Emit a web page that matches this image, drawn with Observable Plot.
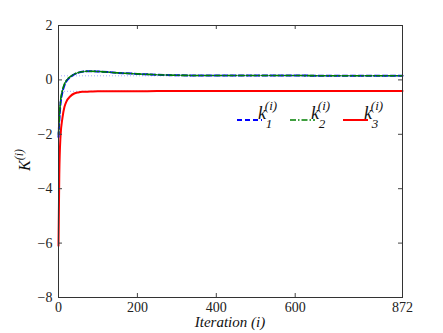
<!DOCTYPE html>
<html><head><meta charset="utf-8">
<script src="https://cdn.jsdelivr.net/npm/d3@7"></script>
<script src="https://cdn.jsdelivr.net/npm/@observablehq/plot@0.6"></script>
<style>body{margin:0;background:#fff}#chart{position:relative;width:443px;height:333px}
svg, svg text{font-family:'Liberation Serif','Times New Roman','DejaVu Serif',serif !important}</style>
</head><body><div id="chart"></div>
<script>
const iterations = [0, 2, 5, 10, 15, 20, 30, 40, 50, 60, 80, 100, 150, 200, 250, 300, 400, 500, 600, 700, 800, 872];
const k1 = [-2.1, -1.5, -0.9, -0.45, -0.2, -0.05, 0.1, 0.2, 0.26, 0.3, 0.32, 0.31, 0.26, 0.22, 0.19, 0.17, 0.16, 0.16, 0.16, 0.15, 0.15, 0.15];
const k2 = [-2.0, -1.4, -0.8, -0.38, -0.15, -0.02, 0.12, 0.21, 0.27, 0.3, 0.32, 0.31, 0.26, 0.22, 0.19, 0.17, 0.16, 0.16, 0.16, 0.15, 0.15, 0.15];
const k3 = [-6.1, -3.5, -2.1, -1.4, -1.0, -0.8, -0.6, -0.5, -0.46, -0.44, -0.43, -0.42, -0.42, -0.42, -0.41, -0.41, -0.41, -0.41, -0.41, -0.41, -0.41, -0.41];
const finals = [0.15, -0.42];
const xTicks = [0, 200, 400, 600, 872];
const yTicks = [2, 0, -2, -4, -6, -8];

const rows = iterations.map((it, j) => ({it, k1: k1[j], k2: k2[j], k3: k3[j]}));
const fmt = d => d < 0 ? "\u2212" + (-d) : String(d);
const FONT = "'Liberation Serif','Times New Roman','DejaVu Serif',serif";

const W = 443, H = 333, mL = 58, mR = 41, mT = 25, mB = 36;
const iw = W - mL - mR, ih = H - mT - mB;

const chart = Plot.plot({
  width: W, height: H,
  marginLeft: mL, marginRight: mR, marginTop: mT, marginBottom: mB,
  style: {fontFamily: FONT, fontSize: "14px", background: "#fff", color: "#222"},
  x: {domain: [0, 872], axis: null},
  y: {domain: [-8, 2], axis: null},
  marks: [
    Plot.ruleY(finals, {stroke: "#a8a8ff", strokeDasharray: "1,2", strokeWidth: 1}),
    Plot.line(rows, {x: "it", y: "k3", stroke: "#ff0000", strokeWidth: 2, curve: "monotone-x"}),
    Plot.line(rows, {x: "it", y: "k1", stroke: "#0000ff", strokeWidth: 2, strokeDasharray: "5,3", curve: "monotone-x"}),
    Plot.line(rows, {x: "it", y: "k2", stroke: "#008000", strokeWidth: 1.6, strokeDasharray: "6,2,1.5,2", curve: "monotone-x"}),
    Plot.tickX(xTicks, {x: d => d, insetTop: ih - 4, stroke: "#444"}),
    Plot.tickX(xTicks, {x: d => d, insetBottom: ih - 4, stroke: "#444"}),
    Plot.tickY(yTicks, {y: d => d, insetRight: iw - 4, stroke: "#444"}),
    Plot.tickY(yTicks, {y: d => d, insetLeft: iw - 4, stroke: "#444"}),
    Plot.frame({stroke: "#333"}),
    Plot.axisX({ticks: xTicks, tickSize: 0, tickPadding: 5, tickFormat: fmt, label: null, fontSize: 14}),
    Plot.axisY({ticks: yTicks, tickSize: 0, tickPadding: 6, tickFormat: fmt, label: null, fontSize: 14})
  ]
});
document.getElementById("chart").appendChild(chart);

const svg = d3.select(chart);
svg.append("text").attr("x", 230).attr("y", 327).attr("text-anchor", "middle")
  .attr("font-size", 15).attr("font-style", "italic").attr("fill", "#111").text("Iteration (i)");
const yl = svg.append("text").attr("transform", "translate(30,160) rotate(-90)").attr("text-anchor", "middle")
  .attr("font-size", 16).attr("font-style", "italic").attr("fill", "#111");
yl.append("tspan").text("K");
yl.append("tspan").attr("font-size", 12).attr("dy", -7).text("(i)");

const legend = [
  {name: "1", color: "#0000ff", dash: "5,3", w: 2, x: 237},
  {name: "2", color: "#008000", dash: "6,2,1.5,2", w: 1.6, x: 290},
  {name: "3", color: "#ff0000", dash: null, w: 2, x: 343}
];
legend.forEach(l => {
  const g = svg.append("g").attr("font-style", "italic").attr("fill", "#111");
  g.append("line").attr("x1", l.x).attr("x2", l.x + 25).attr("y1", 120).attr("y2", 120)
    .attr("stroke", l.color).attr("stroke-width", l.w).attr("stroke-dasharray", l.dash);
  g.append("text").attr("x", l.x + 25).attr("y", 119).attr("font-size", 18).text("k");
  g.append("text").attr("x", l.x + 34).attr("y", 110).attr("font-size", 13).text("(i)");
  g.append("text").attr("x", l.x + 32).attr("y", 128).attr("font-size", 13).text(l.name);
});
</script></body></html>
